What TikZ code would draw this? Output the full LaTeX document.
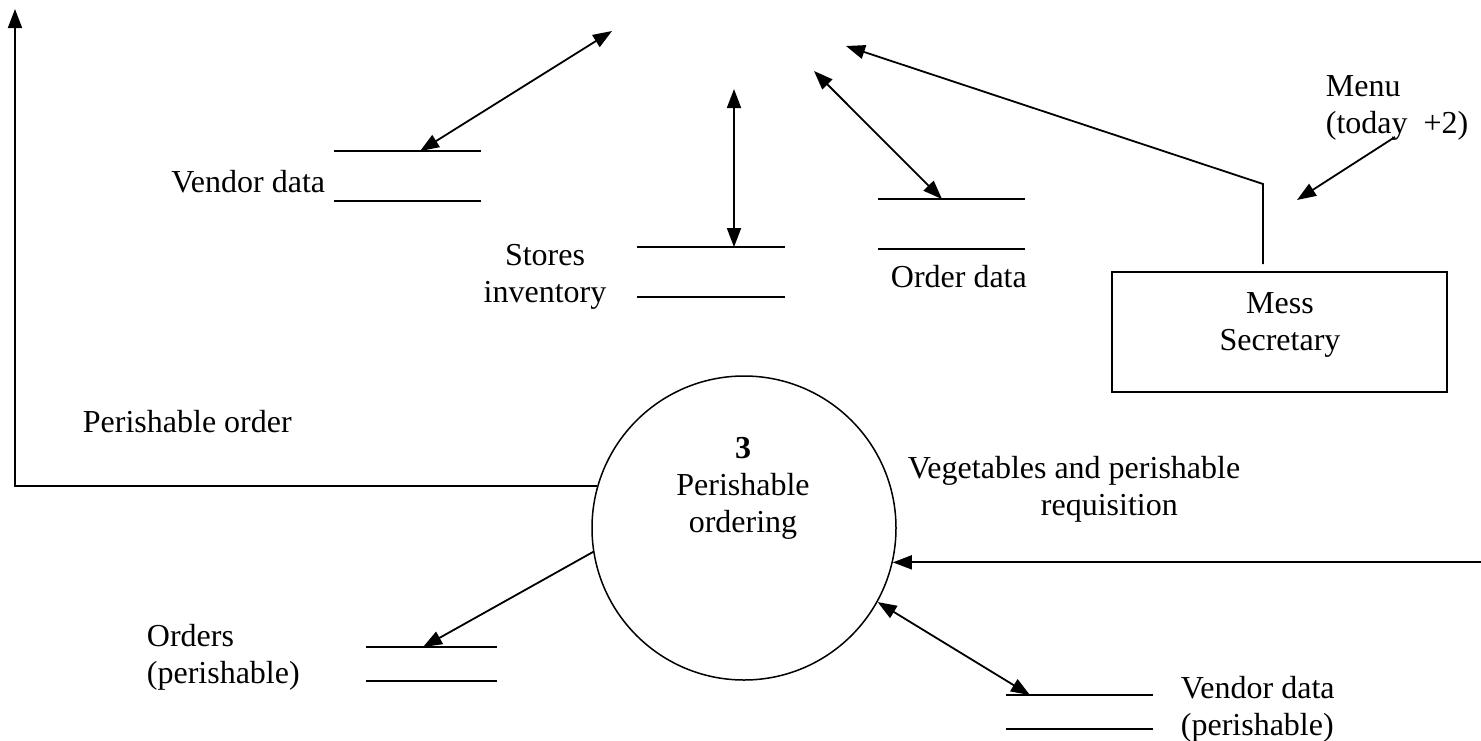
\documentclass[tikz,border=0pt]{standalone}
\usepackage{fontspec}
\setmainfont{Liberation Serif}
\usetikzlibrary{arrows.meta}
\begin{document}
\begin{tikzpicture}[x=1pt,y=-1pt,line width=1.8pt,
  tip/.style={-{Triangle[length=19pt,width=14pt]}},
  both/.style={{Triangle[length=19pt,width=14pt]}-{Triangle[length=19pt,width=14pt]}},
  lbl/.style={font=\fontsize{32}{37}\selectfont,inner sep=0pt},
  datastore/.style={inner sep=0pt,minimum width=#1,minimum height=48pt},
  datastore/.default=145pt,
  thinstore/.style={inner sep=0pt,minimum width=#1,minimum height=32pt}]
\useasboundingbox (0,0) rectangle (1481,740);

% data stores (open rectangles: top and bottom lines only)
\node[datastore] (vendor) at (407.5,176) {};
\node[datastore=146pt] (stores) at (711,272) {};
\node[datastore] (order) at (951.5,224) {};
\node[thinstore=129pt] (orders) at (431.5,664) {};
\node[thinstore=145pt] (vendorp) at (1079.5,712) {};
\foreach \s in {vendor,stores,order,orders,vendorp}
  \draw (\s.north west) -- (\s.north east) (\s.south west) -- (\s.south east);

% process and external entity
\node[circle,draw,line width=1.5pt,minimum size=304pt,inner sep=0pt] (proc) at (744,528) {};
\node[draw,minimum width=335pt,minimum height=120pt,inner sep=0pt] (sec) at (1279.5,332) {};

% free ends of flows
\coordinate (poEnd) at (15,9);
\coordinate (vdFree) at (612,31);
\coordinate (siFree) at (734,89);
\coordinate (odFree) at (814,71);
\coordinate (secBend) at (1263,184);
\coordinate (secFree) at (846,46);
\coordinate (menuFrom) at (1395,137);
\coordinate (menuTo) at (1297,200);
\coordinate (reqFrom) at (1481,561);

% flows
\draw[tip] (proc.164.7) -| (poEnd);
\draw[both] ([xshift=12.5pt]vendor.north) -- (vdFree);
\draw[both] ([xshift=23pt]stores.north) -- (siFree);
\draw[both] ([xshift=-9.5pt]order.north) -- (odFree);
\draw[tip] ([xshift=-16.5pt,yshift=7pt]sec.north) -- (secBend) -- (secFree);
\draw[tip] (menuFrom) -- (menuTo);
\draw[tip] (proc.189.1) -- ([xshift=-8.5pt]orders.north);
\draw[tip] (reqFrom) -- (proc.347.5 -| reqFrom) -- (proc.347.5);
\draw[both] (proc.331.4) -- ([xshift=-49.5pt]vendorp.north);

% labels (multi-line labels are placed by the baseline of their last line)
\node[lbl,anchor=base east] (tVendor) at (326,192) {Vendor data};
\node[lbl,anchor=base,align=center] (tStores) at (545,302) {Stores\\inventory};
\node[lbl,anchor=base west] (tOrder) at (890,287) {Order data};
\node[lbl,anchor=base west,align=left] (tMenu) at (1325,133) {Menu\\(today\ \ +2)};
\node[lbl,anchor=base,align=center] (tSec) at (1280,350) {Mess\\Secretary};
\node[lbl,anchor=base west] (tPO) at (82,432) {Perishable order};
\node[lbl,anchor=base,align=center] (tProc) at (743,532) {\textbf{3}\\Perishable\\ordering};
\node[lbl,anchor=base west] (tVeg) at (907,478) {Vegetables and perishable};
\node[lbl,anchor=base west] (tReq) at (1040,515) {requisition};
\node[lbl,anchor=base west,align=left] (tOrders) at (146,683) {Orders\\(perishable)};
\node[lbl,anchor=base west,align=left] (tVP) at (1180,735) {Vendor data\\(perishable)};
\end{tikzpicture}
\end{document}
